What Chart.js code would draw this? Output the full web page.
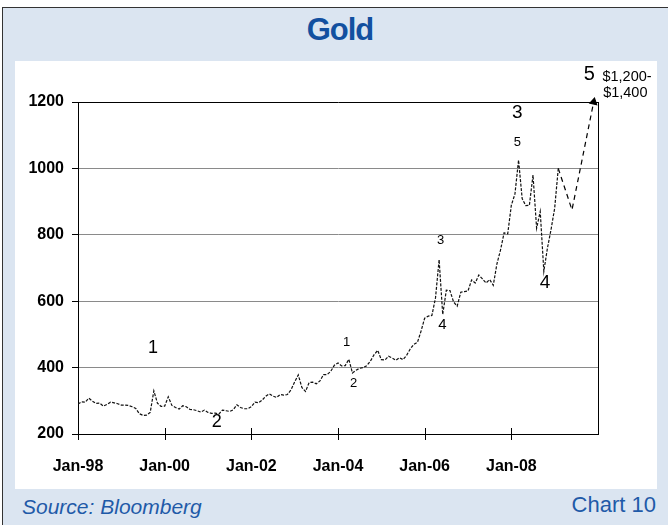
<!DOCTYPE html>
<html>
<head>
<meta charset="utf-8">
<title>Gold</title>
<script src="https://cdn.jsdelivr.net/npm/chart.js@4.4.1/dist/chart.umd.min.js"></script>
<style>
    html, body { margin: 0; padding: 0; width: 668px; height: 525px; overflow: hidden; background: #fff; }
    body { position: relative; font-family: 'Liberation Sans', Arial, sans-serif; }
    #frame { position: absolute; left: 2px; top: 7px; width: 700px; height: 560px; border: 1px solid #333; background: #dbe5f1; }
    #panel { position: absolute; left: 15px; top: 61px; width: 642px; height: 428px; background: #fff; }
    #title { position: absolute; left: 0; top: 14px; width: 680px; text-align: center; font-weight: bold; font-size: 31px; line-height: 32px; color: #1250a0; letter-spacing: -1px; }
    #source { position: absolute; left: 22px; top: 495px; font-style: italic; font-size: 21px; line-height: 24px; color: #1f5aa8; }
    #chartno { position: absolute; right: 12px; top: 493px; font-size: 22px; line-height: 24px; color: #1f5aa8; }
    #chart { position: absolute; left: 0; top: 0; }
</style>
</head>
<body>
<div id="frame"></div>
<div id="panel"></div>
<div id="title">Gold</div>
<div id="source">Source: Bloomberg</div>
<div id="chartno">Chart 10</div>
<canvas id="chart" width="668" height="525"></canvas>

<script>
    // monthly gold price, US$/oz, Jan-98 .. Feb-09
    const startYear = 1998;
    const goldPrice = [
        290, 297, 296, 308, 299, 292, 293, 284, 289, 296, 294, 291,
        287, 287, 286, 282, 277, 261, 256, 257, 265, 330, 293, 283,
        284, 312, 286, 280, 275, 285, 282, 274, 273, 270, 266, 272,
        265, 262, 263, 260, 272, 270, 268, 273, 288, 280, 276, 276,
        282, 296, 294, 302, 314, 321, 314, 310, 319, 317, 319, 333,
        357, 378, 340, 328, 355, 356, 351, 360, 379, 379, 389, 407,
        414, 405, 406, 425, 384, 392, 398, 400, 406, 420, 439, 452,
        424, 423, 434, 429, 422, 430, 424, 437, 456, 470, 476, 510,
        549, 555, 557, 610, 725, 560, 633, 632, 598, 585, 627, 629,
        631, 664, 655, 679, 667, 655, 665, 648, 712, 754, 806, 803,
        889, 923, 1025, 909, 888, 889, 980, 820, 870, 690, 760, 816,
        880, 1000
    ];

    // projected path to the wave-5 target
    const projYears = [2009.083, 2009.4, 2009.9];
    const projValues = [1000, 875, 1200];

    const yTicks = [200, 400, 600, 800, 1000, 1200];

    const waveLabels = [
        { text: '1', x: 1999.73, y: 459, size: 18 },
        { text: '2', x: 2001.2, y: 236, size: 18 },
        { text: '1', x: 2004.2, y: 477, size: 13 },
        { text: '2', x: 2004.36, y: 351, size: 13 },
        { text: '3', x: 2006.37, y: 784, size: 13 },
        { text: '4', x: 2006.41, y: 528, size: 15 },
        { text: '3', x: 2008.14, y: 1167, size: 19 },
        { text: '5', x: 2008.14, y: 1077, size: 13 },
        { text: '4', x: 2008.78, y: 655, size: 19 },
        { text: '5', x: 2009.8, y: 1284, size: 20 },
        { text: '$1,200-', x: 2010.67, y: 1275, size: 14.5 },
        { text: '$1,400', x: 2010.63, y: 1227, size: 14.5 }
    ];

    const goldPoints = goldPrice.map((v, i) => ({ x: startYear + i / 12, y: v }));
    const projPoints = projYears.map((yr, i) => ({ x: yr, y: projValues[i] }));

    const frameLines = {
        id: 'frameLines',
        afterDraw(chart) {
            const { ctx, chartArea: a, scales: { x } } = chart;
            ctx.save();
            ctx.strokeStyle = '#000';
            ctx.lineWidth = 1;
            ctx.beginPath();
            ctx.moveTo(Math.round(a.right) + 0.5, a.top);
            ctx.lineTo(Math.round(a.right) + 0.5, a.bottom);
            x.ticks.forEach(t => {
                if (t.value >= 2010) return;
                const px = Math.round(x.getPixelForValue(t.value)) + 0.5;
                ctx.moveTo(px, a.bottom - 6);
                ctx.lineTo(px, a.bottom + 6);
            });
            ctx.stroke();

            // wave counts
            ctx.fillStyle = '#000';
            ctx.textAlign = 'center';
            ctx.textBaseline = 'middle';
            waveLabels.forEach(l => {
                ctx.font = l.size + "px 'Liberation Sans', Arial, sans-serif";
                ctx.fillText(l.text, x.getPixelForValue(l.x), chart.scales.y.getPixelForValue(l.y));
            });
            ctx.restore();
        }
    };

    new Chart(document.getElementById('chart'), {
        type: 'line',
        data: {
            datasets: [{
                label: 'Gold',
                data: goldPoints,
                borderColor: '#111',
                borderWidth: 1.2,
                borderDash: [3, 1.5],
                pointRadius: 0,
                tension: 0
            }, {
                label: 'Projection',
                data: projPoints,
                borderColor: '#000',
                borderWidth: 1.2,
                borderDash: [5, 4],
                pointStyle: 'triangle',
                pointRadius: [0, 0, 4],
                pointRotation: 12,
                pointBackgroundColor: '#000',
                pointBorderColor: '#000',
                clip: false,
                tension: 0
            }]
        },
        options: {
            responsive: false,
            animation: false,
            devicePixelRatio: 1,
            layout: { padding: { left: 0, top: 102, right: 70, bottom: 0 } },
            plugins: { legend: { display: false }, tooltip: { enabled: false } },
            scales: {
                x: {
                    type: 'linear',
                    min: 1998,
                    max: 2010,
                    afterBuildTicks: s => { s.ticks = [1998, 2000, 2002, 2004, 2006, 2008, 2010].map(v => ({ value: v })); },
                    afterFit: s => { s.height = 91; },
                    grid: { display: true, drawOnChartArea: false, drawTicks: false },
                    border: { display: true, color: '#000', width: 1 },
                    ticks: {
                        padding: 23,
                        maxRotation: 0,
                        autoSkip: false,
                        color: '#000',
                        font: { family: "'Liberation Sans', Arial, sans-serif", size: 16, weight: 'bold' },
                        callback: v => v < 2010 ? 'Jan-' + String(v).slice(2) : ''
                    }
                },
                y: {
                    min: 200,
                    max: 1200,
                    afterBuildTicks: s => { s.ticks = yTicks.map(v => ({ value: v })); },
                    afterFit: s => { s.width = 78; },
                    grid: {
                        color: c => c.tick && c.tick.value === 1200 ? '#000' : '#8a8a8a',
                        tickColor: '#000',
                        tickLength: 6,
                        lineWidth: 1
                    },
                    border: { display: true, color: '#000', width: 1 },
                    ticks: {
                        padding: 8,
                        color: '#000',
                        font: { family: "'Liberation Sans', Arial, sans-serif", size: 16, weight: 'bold' },
                        callback: v => String(v)
                    }
                }
            }
        },
        plugins: [frameLines]
    });
</script>
</body>
</html>
